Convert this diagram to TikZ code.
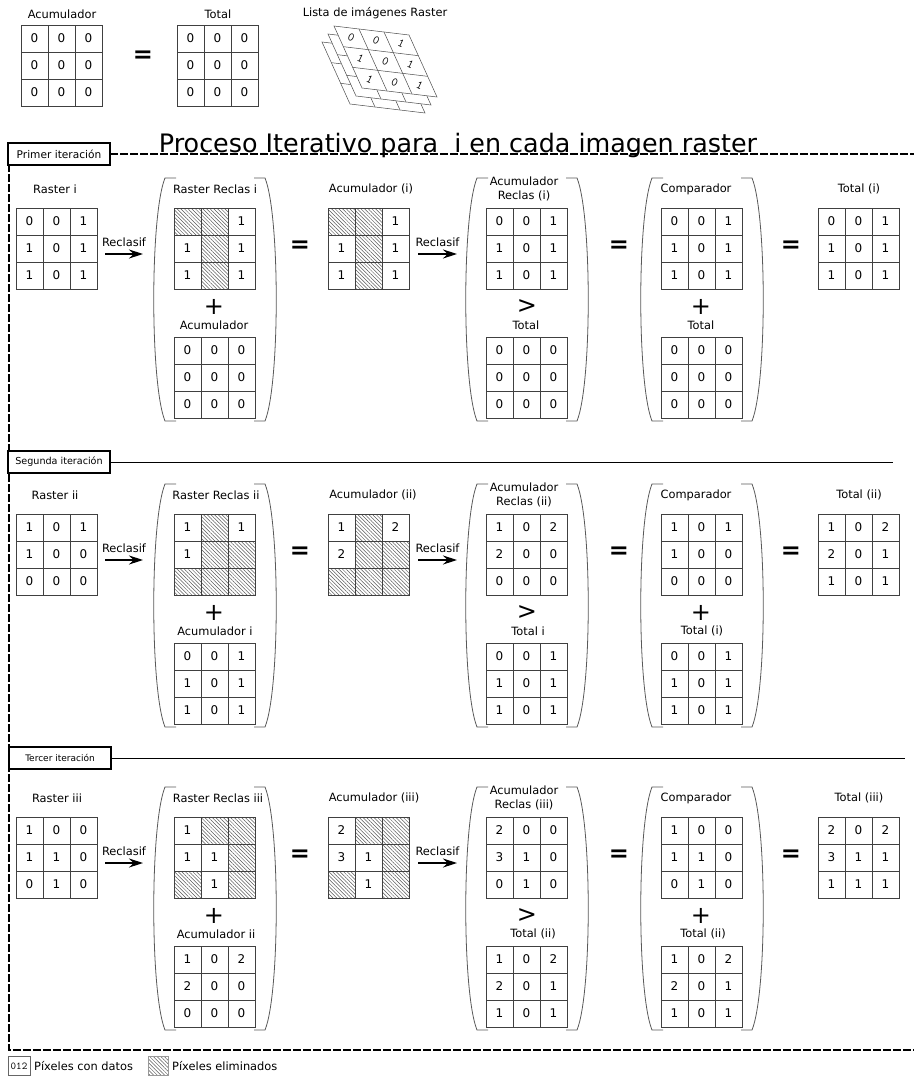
\documentclass[tikz,border=0pt]{standalone}
\usepackage{fontspec}
\setmainfont{DejaVu Sans}
\usetikzlibrary{arrows.meta,calc,positioning,patterns.meta}

\tikzset{
  etiq/.style={font=\fontsize{11.4}{13}\selectfont,inner sep=1pt,align=center},
  num/.style={font=\fontsize{12}{13}\selectfont,inner sep=0pt},
  celda/.style={draw=black!75,line width=0.8pt},
  rayado/.style={pattern={Lines[angle=-45,distance=2.6pt,line width=0.5pt]},pattern color=black!65},
  rejbox/.style={minimum width=81pt,minimum height=81pt,inner sep=0pt},
  signo/.style={font=\fontsize{24}{24}\selectfont,inner sep=0pt},
  igual/.style={font=\bfseries\fontsize{24}{24}\selectfont,inner sep=0pt},
  flecha/.style={line width=1.2pt,-{Stealth[length=14pt,width=9pt]}},
  parent/.style={draw=black!65,line width=0.8pt},
  itbox/.style={draw,line width=2pt,fill=white,minimum width=102pt,minimum height=22pt,inner sep=0pt},
  marco/.style={line width=1.2pt,dash pattern=on 8pt off 2pt},
  hoja/.style={draw=black!70,fill=white,line width=0.5pt},
}

\def\marca{h}
% rejilla 3x3: nombre, x, y (esquina sup. izq.), valores (h = rayado)
\newcommand{\rejilla}[4]{%
  \node[rejbox] (#1) at ({#2+40.5},{#3+40.5}) {};
  \foreach \v [count=\k from 0] in {#4} {
    \pgfmathtruncatemacro\col{mod(\k,3)}
    \pgfmathtruncatemacro\fil{div(\k,3)}
    \edef\tmp{\v}
    \ifx\tmp\marca
      \draw[celda,rayado] ({#2+27*\col},{#3+27*\fil}) rectangle ++(27,27);
    \else
      \draw[celda] ({#2+27*\col},{#3+27*\fil}) rectangle ++(27,27);
      \node[num] at ({#2+27*\col+13.5},{#3+27*\fil+13.5}) {\v};
    \fi
  }
}
% parentesis grandes alrededor de una columna
\newcommand{\parentesis}[2]{%
  \draw[parent] ({#1+2},178) -- ({#1-9},178) .. controls ({#1-24},215) and ({#1-24},384) .. ({#1-9},421) -- ({#1+2},421);
  \draw[parent] ({#2-1},178) -- ({#2+10},178) .. controls ({#2+25},215) and ({#2+25},384) .. ({#2+10},421) -- ({#2-1},421);
}

\begin{document}
\begin{tikzpicture}[x=1pt,y=-1pt]
\useasboundingbox (0,0) rectangle (914,1076);

% cabecera
\node[etiq] (lacum0) at (62,14) {Acumulador};
\rejilla{acum0}{21}{25}{0,0,0,0,0,0,0,0,0}
\node[igual] (igual0) at (143,57) {=};
\node[etiq] (ltot0) at (218,14) {Total};
\rejilla{tot0}{177}{25}{0,0,0,0,0,0,0,0,0}
\node[etiq] (llista) at (375,13) {Lista de imágenes Raster};
\foreach \s in {2,1,0} {
  \coordinate (h\s) at ({334-6*\s},{26+8*\s});
  \filldraw[hoja] (h\s) -- ++(75,9) -- ++(28,62) -- ++(-75,-9) -- cycle;
  \foreach \i in {1,2} {
    \draw[hoja] ($(h\s)+\i*(25,3)$) -- ++(28,62);
    \draw[hoja] ($(h\s)+\i*(9.33,20.67)$) -- ++(75,9);
  }
}
\foreach \v [count=\k from 0] in {0,0,1,1,0,1,1,0,1} {
  \pgfmathtruncatemacro\col{mod(\k,3)}
  \pgfmathtruncatemacro\fil{div(\k,3)}
  \node[font=\ttfamily\fontsize{12}{12}\selectfont,rotate=-25,inner sep=0pt] (hn\k) at ({334+(\col+0.5)*25+(\fil+0.5)*9.33},{26+(\col+0.5)*3+(\fil+0.5)*20.67}) {\v};
}

% marco de iteraciones
\draw[marco] (9,154) -- (9,1050) -- (914,1050);
\draw[marco] (110,154) -- (914,154);
\node[font=\fontsize{25.4}{30}\selectfont,anchor=base,inner sep=0pt] (titulo) at (458,152) {Proceso Iterativo para~~i en cada imagen raster};
\draw[line width=1pt] (110,462) -- (893,462);
\draw[line width=1pt] (112,758) -- (905,758);
\node[itbox,font=\fontsize{10.6}{12}\selectfont] (it1) at (59,154) {Primer iteración};
\node[itbox,font=\fontsize{9.6}{11}\selectfont] (it2) at (59,462) {Segunda iteración};
\node[itbox,font=\fontsize{9}{11}\selectfont] (it3) at (60,758) {Tercer iteración};

% primera iteracion
\node[etiq] (lras1) at (55,189) {Raster i};
\rejilla{ras1}{16}{208}{0,0,1,1,0,1,1,0,1}
\coordinate (a1i) at (105,254); \coordinate (a1f) at (143,254);
\draw[flecha] (a1i) -- node[etiq,above=6pt] (rc1a) {Reclasif} (a1f);
\parentesis{174}{255}
\node[etiq] (lrr1) at (215,189) {Raster Reclas i};
\rejilla{rr1}{174}{208}{h,h,1,1,h,1,1,h,1}
\node[signo] (mas1a) at (214,307) {+};
\node[etiq] (lac1) at (214,325) {Acumulador};
\rejilla{ac1}{174}{337}{0,0,0,0,0,0,0,0,0}
\node[igual] (ig1a) at (300,247) {=};
\node[etiq] (lacu1) at (371,189) {Acumulador (i)};
\rejilla{acu1}{328}{208}{h,h,1,1,h,1,1,h,1}
\coordinate (b1i) at (418,254); \coordinate (b1f) at (457,254);
\draw[flecha] (b1i) -- node[etiq,above=6pt] (rc1b) {Reclasif} (b1f);
\parentesis{486}{567}
\node[etiq,font=\fontsize{11.4}{14}\selectfont] (lar1) at (524,189) {Acumulador\\Reclas (i)};
\rejilla{ar1}{486}{208}{0,0,1,1,0,1,1,0,1}
\node[signo] (may1) at (527,307) {>};
\node[etiq] (lta1) at (526,325) {Total};
\rejilla{ta1}{486}{337}{0,0,0,0,0,0,0,0,0}
\node[igual] (ig1b) at (619,247) {=};
\parentesis{661}{742}
\node[etiq] (lcp1) at (696,189) {Comparador};
\rejilla{cp1}{661}{208}{0,0,1,1,0,1,1,0,1}
\node[signo] (mas1b) at (701,307) {+};
\node[etiq] (ltb1) at (701,325) {Total};
\rejilla{tb1}{661}{337}{0,0,0,0,0,0,0,0,0}
\node[igual] (ig1c) at (791,247) {=};
\node[etiq] (ltot1) at (859,189) {Total (i)};
\rejilla{tot1}{818}{208}{0,0,1,1,0,1,1,0,1}

% segunda iteracion
\begin{scope}[shift={(0,306)}]
\node[etiq] (lras2) at (55,189) {Raster ii};
\rejilla{ras2}{16}{208}{1,0,1,1,0,0,0,0,0}
\coordinate (a2i) at (105,254); \coordinate (a2f) at (143,254);
\draw[flecha] (a2i) -- node[etiq,above=6pt] (rc2a) {Reclasif} (a2f);
\parentesis{174}{255}
\node[etiq] (lrr2) at (216,189) {Raster Reclas ii};
\rejilla{rr2}{174}{208}{1,h,1,1,h,h,h,h,h}
\node[signo] (mas2a) at (214,307) {+};
\node[etiq] (lac2) at (215,325) {Acumulador i};
\rejilla{ac2}{174}{337}{0,0,1,1,0,1,1,0,1}
\node[igual] (ig2a) at (300,247) {=};
\node[etiq] (lacu2) at (373,189) {Acumulador (ii)};
\rejilla{acu2}{328}{208}{1,h,2,2,h,h,h,h,h}
\coordinate (b2i) at (418,254); \coordinate (b2f) at (457,254);
\draw[flecha] (b2i) -- node[etiq,above=6pt] (rc2b) {Reclasif} (b2f);
\parentesis{486}{567}
\node[etiq,font=\fontsize{11.4}{14}\selectfont] (lar2) at (524,189) {Acumulador\\Reclas (ii)};
\rejilla{ar2}{486}{208}{1,0,2,2,0,0,0,0,0}
\node[signo] (may2) at (527,307) {>};
\node[etiq] (lta2) at (528,325) {Total i};
\rejilla{ta2}{486}{337}{0,0,1,1,0,1,1,0,1}
\node[igual] (ig2b) at (619,247) {=};
\parentesis{661}{742}
\node[etiq] (lcp2) at (696,189) {Comparador};
\rejilla{cp2}{661}{208}{1,0,1,1,0,0,0,0,0}
\node[signo] (mas2b) at (701,307) {+};
\node[etiq] (ltb2) at (702,325) {Total (i)};
\rejilla{tb2}{661}{337}{0,0,1,1,0,1,1,0,1}
\node[igual] (ig2c) at (791,247) {=};
\node[etiq] (ltot2) at (859,189) {Total (ii)};
\rejilla{tot2}{818}{208}{1,0,2,2,0,1,1,0,1}
\end{scope}

% tercera iteracion
\begin{scope}[shift={(0,609)}]
\node[etiq] (lras3) at (57,189) {Raster iii};
\rejilla{ras3}{16}{208}{1,0,0,1,1,0,0,1,0}
\coordinate (a3i) at (105,254); \coordinate (a3f) at (143,254);
\draw[flecha] (a3i) -- node[etiq,above=6pt] (rc3a) {Reclasif} (a3f);
\parentesis{174}{255}
\node[etiq] (lrr3) at (218,189) {Raster Reclas iii};
\rejilla{rr3}{174}{208}{1,h,h,1,1,h,h,1,h}
\node[signo] (mas3a) at (214,307) {+};
\node[etiq] (lac3) at (216,325) {Acumulador ii};
\rejilla{ac3}{174}{337}{1,0,2,2,0,0,0,0,0}
\node[igual] (ig3a) at (300,247) {=};
\node[etiq] (lacu3) at (374,189) {Acumulador (iii)};
\rejilla{acu3}{328}{208}{2,h,h,3,1,h,h,1,h}
\coordinate (b3i) at (418,254); \coordinate (b3f) at (457,254);
\draw[flecha] (b3i) -- node[etiq,above=6pt] (rc3b) {Reclasif} (b3f);
\parentesis{486}{567}
\node[etiq,font=\fontsize{11.4}{14}\selectfont] (lar3) at (524,189) {Acumulador\\Reclas (iii)};
\rejilla{ar3}{486}{208}{2,0,0,3,1,0,0,1,0}
\node[signo] (may3) at (527,307) {>};
\node[etiq] (lta3) at (533,325) {Total (ii)};
\rejilla{ta3}{486}{337}{1,0,2,2,0,1,1,0,1}
\node[igual] (ig3b) at (619,247) {=};
\parentesis{661}{742}
\node[etiq] (lcp3) at (696,189) {Comparador};
\rejilla{cp3}{661}{208}{1,0,0,1,1,0,0,1,0}
\node[signo] (mas3b) at (701,307) {+};
\node[etiq] (ltb3) at (703,325) {Total (ii)};
\rejilla{tb3}{661}{337}{1,0,2,2,0,1,1,0,1}
\node[igual] (ig3c) at (791,247) {=};
\node[etiq] (ltot3) at (859,189) {Total (iii)};
\rejilla{tot3}{818}{208}{2,0,2,3,1,1,1,1,1}
\end{scope}

% leyenda
\draw[draw=black!60,line width=0.6pt] (8,1056) rectangle (30,1075);
\node[font=\ttfamily\fontsize{10.5}{11}\selectfont,inner sep=0pt] (ley1) at (19,1066) {012};
\node[etiq,anchor=west] (tley1) at (33,1066) {Píxeles con datos};
\draw[draw=black!40,line width=0.6pt,rayado] (148,1056) rectangle (168,1075);
\node[etiq,anchor=west] (tley2) at (171,1066) {Píxeles eliminados};

\end{tikzpicture}
\end{document}
